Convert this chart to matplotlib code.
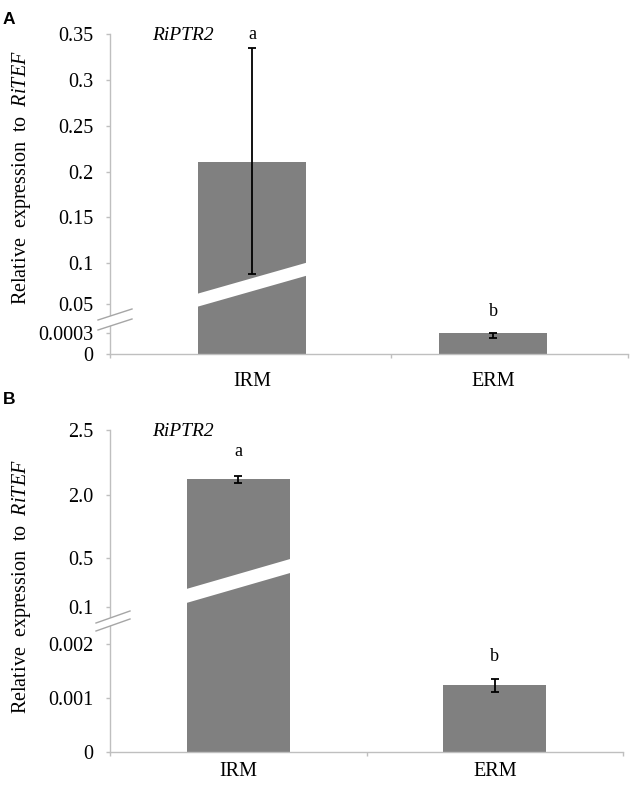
import numpy as np
import matplotlib.pyplot as plt
from matplotlib.patches import Polygon
from matplotlib.lines import Line2D

plt.rcParams['font.family'] = ['Liberation Serif', 'DejaVu Serif']
plt.rcParams['mathtext.fontset'] = 'custom'
plt.rcParams['mathtext.rm'] = 'Liberation Serif'
plt.rcParams['mathtext.it'] = 'Liberation Serif:italic'

# datos
tejidos = ['IRM', 'ERM']
gen = 'RiPTR2'
letras = ['a', 'b']

# panel A
expr_a = [0.211, 0.0003]
err_a = [0.124, 0.00007]
ticks_a = [0, 0.0003, 0.05, 0.1, 0.15, 0.2, 0.25, 0.3, 0.35]
etiq_a = ['0', '0.0003', '0.05', '0.1', '0.15', '0.2', '0.25', '0.3', '0.35']

# panel B
expr_b = [2.12, 0.00124]
err_b = [0.03, 0.00012]
ticks_b = [0, 0.001, 0.002, 0.1, 0.5, 2.0, 2.5]
etiq_b = ['0', '0.001', '0.002', '0.1', '0.5', '2.0', '2.5']

# eje cortado: altura (px) de cada tick sobre la base
alto_a = [0, 21, 50, 91, 137, 182, 228, 274, 320]
alto_b = [0, 54, 108, 145, 194, 257, 322]

W, H = 630, 785
GRIS = '#808080'
EJE = '#bfbfbf'

fig = plt.figure(figsize=(W / 100, H / 100), dpi=100)


def fpx(x, y):
    return (x / W, 1 - y / H)


def escala(ax, ticks, alto):
    fwd = lambda v: np.interp(v, ticks, alto)
    inv = lambda p: np.interp(p, alto, ticks)
    ax.set_yscale('function', functions=(fwd, inv))


def panel(rect, expr, err, ticks, etiq, alto, xlim, ancho, bordes, pad_x, offs):
    x0, y_top, x1, y_bot = rect
    ax = fig.add_axes([x0 / W, 1 - y_bot / H, (x1 - x0) / W, (y_bot - y_top) / H])
    escala(ax, ticks, alto)
    x = np.arange(len(tejidos))
    ax.bar(x, expr, width=ancho, color=GRIS, zorder=2)
    ax.errorbar(x, expr, yerr=err, fmt='none', ecolor='black', elinewidth=1.3,
                capsize=3, capthick=1.3, zorder=3)
    for xi, v, e, l, o in zip(x, expr, err, letras, offs):
        ax.annotate(l, (xi, v + e), xytext=(0, o), textcoords='offset pixels',
                    ha='center', va='center', fontsize=13)
    ax.set_ylim(ticks[0], ticks[-1])
    ax.set_xlim(*xlim)
    ax.set_yticks(ticks)
    ax.set_yticklabels(etiq)
    ax.set_xticks(x)
    ax.set_xticklabels(tejidos)
    ax.set_xticks(bordes, minor=True)
    ax.tick_params(axis='y', length=3, width=1, color=EJE, pad=9, labelsize=14.5)
    ax.tick_params(axis='x', which='major', length=0, pad=pad_x, labelsize=14.5)
    ax.tick_params(axis='x', which='minor', length=3, width=1, color=EJE)
    for s in ['top', 'right']:
        ax.spines[s].set_visible(False)
    for s in ['left', 'bottom']:
        ax.spines[s].set_color(EJE)
        ax.spines[s].set_linewidth(1)
    return ax


def franja(pts, bordes=True):
    fig.add_artist(Polygon([fpx(*p) for p in pts], closed=True, facecolor='white',
                           edgecolor='none', transform=fig.transFigure, zorder=10))
    if bordes:
        for a, b in [(pts[0], pts[1]), (pts[3], pts[2])]:
            (xa, ya), (xb, yb) = fpx(*a), fpx(*b)
            fig.add_artist(Line2D([xa, xb], [ya, yb], color='#a6a6a6', lw=1,
                                  transform=fig.transFigure, zorder=11))


# Panel A
ax_a = panel((110, 34, 628, 354), expr_a, err_a, ticks_a, etiq_a, alto_a,
             (-0.589, 1.56), 0.45, [-0.589, 0.577, 1.56], 13, [13, 21])
# Panel B
ax_b = panel((110, 430, 623, 752), expr_b, err_b, ticks_b, etiq_b, alto_b,
             (-0.5, 1.5), 0.40, [-0.5, 0.5, 1.5], 7, [24, 22])

# cortes en las barras
franja([(186, 297), (316, 260), (316, 273), (186, 310)], bordes=False)
franja([(176, 592), (304, 555), (304, 569), (176, 606)], bordes=False)
# cortes en el eje
franja([(98, 320), (132, 309), (132, 319), (98, 330)])
franja([(96, 623), (130, 611), (130, 619), (96, 631)])

# textos
for ax, yf in [(ax_a, 35), (ax_b, 432)]:
    fig.text(183 / W, 1 - yf / H, gen, style='italic', fontsize=14,
             ha='center', va='center')

ylab = r'Relative  expression  to  $\mathit{RiTEF}$'
fig.text(22 / W, 1 - 178 / H, ylab, rotation=90, fontsize=14.5, ha='center', va='center')
fig.text(22 / W, 1 - 587 / H, ylab, rotation=90, fontsize=14.5, ha='center', va='center')

fig.text(3 / W, 1 - 19 / H, 'A', family=['Liberation Sans', 'DejaVu Sans'],
         weight='bold', fontsize=12.5, ha='left', va='center')
fig.text(3 / W, 1 - 399 / H, 'B', family=['Liberation Sans', 'DejaVu Sans'],
         weight='bold', fontsize=12.5, ha='left', va='center')

fig.savefig('out.png', dpi=100)
